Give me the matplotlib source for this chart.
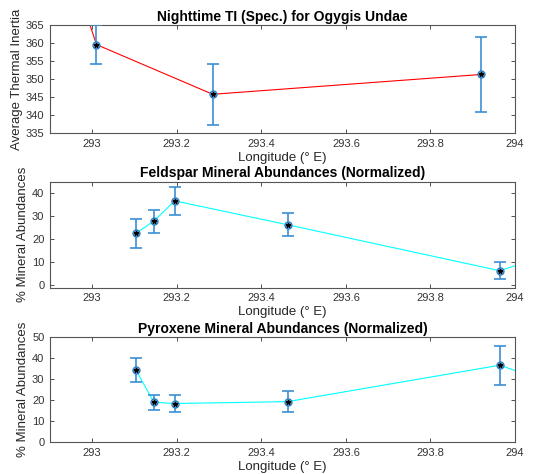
import matplotlib
matplotlib.use("Agg")
import matplotlib.pyplot as plt

plt.rcParams['font.family'] = ['Liberation Sans', 'DejaVu Sans']

# thermal inertia (first point sits above the visible range)
ti_lon = [292.95, 293.01, 293.285, 293.92]
ti_val = [381.0, 359.6, 345.8, 351.3]
ti_err = [5.0, 5.3, 8.4, 10.5]

# feldspar abundances (last point lies past the right edge)
fs_lon = [293.103, 293.146, 293.195, 293.462, 293.964, 294.05]
fs_val = [22.6, 28.0, 36.8, 26.4, 6.4, 11.6]
fs_err = [6.2, 5.0, 6.0, 5.0, 3.8, 4.0]

# pyroxene abundances
px_lon = [293.103, 293.146, 293.195, 293.462, 293.964, 294.05]
px_val = [34.4, 19.0, 18.4, 19.3, 36.6, 30.6]
px_err = [5.6, 3.6, 4.0, 5.0, 9.2, 5.0]

xticks = [293, 293.2, 293.4, 293.6, 293.8, 294]
xticklabels = ['293', '293.2', '293.4', '293.6', '293.8', '294']

errc = '#3b8fd4'
fig = plt.figure(figsize=(5.37, 4.74), dpi=100)

panels = [
    (ti_lon, ti_val, ti_err, 'red', 'Nighttime TI (Spec.) for Ogygis Undae',
     'Average Thermal Inertia', (335, 365), range(335, 366, 5), [0.093, 0.719, 0.866, 0.228]),
    (fs_lon, fs_val, fs_err, 'cyan', 'Feldspar Mineral Abundances (Normalized)',
     '% Mineral Abundances', (-1, 45.2), range(0, 41, 10), [0.093, 0.393, 0.866, 0.224]),
    (px_lon, px_val, px_err, 'cyan', 'Pyroxene Mineral Abundances (Normalized)',
     '% Mineral Abundances', (0, 50), range(0, 51, 10), [0.093, 0.067, 0.866, 0.222]),
]

for lon, val, err, lc, title, ylab, ylim, yt, pos in panels:
    ax = fig.add_axes(pos)
    ax.plot(lon, val, color=lc, lw=0.8, zorder=2)
    ax.errorbar(lon, val, yerr=err, fmt='none', ecolor=errc, elinewidth=1.2,
                capsize=4, capthick=1.2, zorder=3)
    ax.plot(lon, val, 'o', ms=5, mfc='#9ccbef', mec='#2a7fc4', mew=1.0, zorder=4)
    ax.plot(lon, val, '*', ms=3.5, color='black', zorder=5)
    ax.set_xlim(292.9, 294)
    ax.set_ylim(*ylim)
    ax.set_xticks(xticks)
    ax.set_xticklabels(xticklabels)
    ax.set_yticks(list(yt))
    ax.tick_params(direction='in', top=True, right=True, labelsize=8,
                   colors='#333333', length=3, width=0.6, pad=4)
    for s in ax.spines.values():
        s.set_color('#555555')
        s.set_linewidth(0.8)
    ax.set_title(title, fontsize=10, fontweight='bold', pad=3)
    ax.set_xlabel('Longitude (° E)', fontsize=9.5, color='#262626', labelpad=2)
    ax.set_ylabel(ylab, fontsize=9.5, color='#262626', labelpad=2)

fig.savefig('out.png', dpi=100)
